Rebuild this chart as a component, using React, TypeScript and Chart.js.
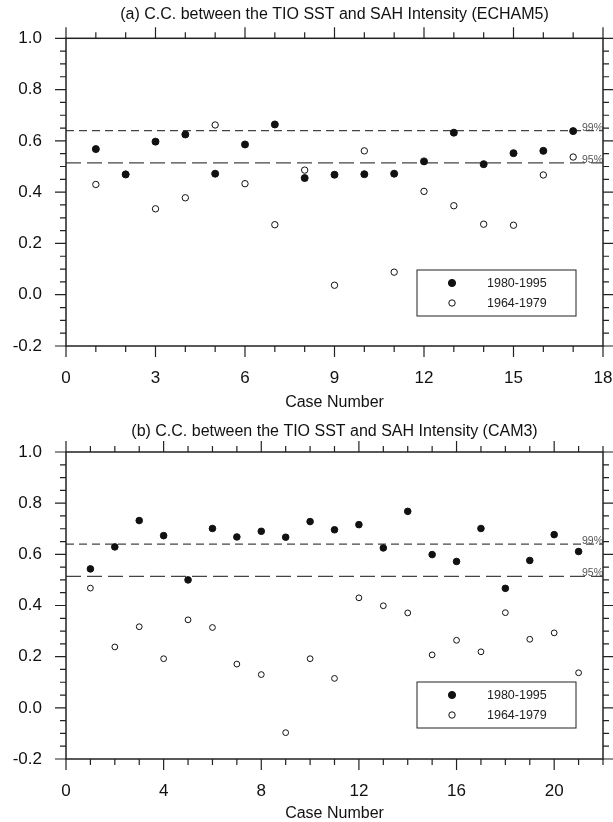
import React, { useEffect, useRef } from "react";
import { Chart, registerables } from "chart.js";

Chart.register(...registerables);

// ---------------- data ----------------
const casesA = [1, 2, 3, 4, 5, 6, 7, 8, 9, 10, 11, 12, 13, 14, 15, 16, 17];
const ccA1980 = [0.568, 0.469, 0.597, 0.625, 0.472, 0.586, 0.664, 0.455, 0.468, 0.47, 0.472, 0.52, 0.632, 0.509, 0.552, 0.561, 0.638];
const ccA1964 = [0.43, 0.47, 0.335, 0.378, 0.662, 0.433, 0.273, 0.486, 0.037, 0.561, 0.088, 0.403, 0.347, 0.275, 0.271, 0.467, 0.537];

const casesB = [1, 2, 3, 4, 5, 6, 7, 8, 9, 10, 11, 12, 13, 14, 15, 16, 17, 18, 19, 20, 21];
const ccB1980 = [0.543, 0.629, 0.732, 0.673, 0.5, 0.701, 0.668, 0.69, 0.667, 0.728, 0.696, 0.716, 0.625, 0.768, 0.599, 0.572, 0.701, 0.467, 0.576, 0.677, 0.611];
const ccB1964 = [0.468, 0.238, 0.317, 0.192, 0.344, 0.314, 0.171, 0.13, -0.097, 0.192, 0.115, 0.43, 0.399, 0.371, 0.207, 0.264, 0.219, 0.372, 0.268, 0.293, 0.137];

const seriesLabels = ["1980-1995", "1964-1979"];
const sig99 = 0.64;
const sig95 = 0.514;
const sigLabels = ["99%", "95%"];

const titleA = "(a) C.C. between the TIO SST and SAH Intensity (ECHAM5)";
const titleB = "(b) C.C. between the TIO SST and SAH Intensity (CAM3)";
const xAxisTitle = "Case Number";

const yMin = -0.2;
const yMax = 1.0;
const yMajor = 0.2;
const yMinor = 0.05;
const xMaxA = 18;
const xMajorA = 3;
const xMaxB = 22;
const xMajorB = 4;
const xMinor = 1;

const FONT = '"Liberation Sans", Arial, Helvetica, sans-serif';

// ---------------- plugin ----------------
const framePlugin = {
  id: "frame",
  beforeDatasetsDraw(chart: any) {
    const { ctx, chartArea: ca } = chart;
    const y = chart.scales.y;
    ctx.save();
    ctx.strokeStyle = "#444";
    ctx.lineWidth = 1.2;
    const p99 = y.getPixelForValue(sig99);
    const p95 = y.getPixelForValue(sig95);
    ctx.setLineDash([8, 5]);
    ctx.beginPath();
    ctx.moveTo(ca.left, p99);
    ctx.lineTo(ca.right, p99);
    ctx.stroke();
    ctx.setLineDash([15, 6]);
    ctx.beginPath();
    ctx.moveTo(ca.left, p95);
    ctx.lineTo(ca.right, p95);
    ctx.stroke();
    ctx.setLineDash([]);
    ctx.restore();
  },
  afterDraw(chart: any, _args: any, opts: any) {
    const { ctx, chartArea: ca } = chart;
    const x = chart.scales.x;
    const y = chart.scales.y;
    ctx.save();
    // significance labels
    ctx.fillStyle = "#555";
    ctx.font = `10.5px ${FONT}`;
    ctx.textAlign = "right";
    ctx.textBaseline = "alphabetic";
    ctx.fillText(sigLabels[0], ca.right, y.getPixelForValue(sig99));
    ctx.fillText(sigLabels[1], ca.right, y.getPixelForValue(sig95));

    // frame
    ctx.strokeStyle = "#222";
    ctx.lineWidth = 1.5;
    ctx.strokeRect(ca.left, ca.top, ca.right - ca.left, ca.bottom - ca.top);

    // ticks
    ctx.lineWidth = 1.2;
    ctx.beginPath();
    const nx = Math.round((x.max - x.min) / xMinor);
    for (let k = 0; k <= nx; k++) {
      const v = x.min + k * xMinor;
      const px = x.getPixelForValue(v);
      const r = v / opts.xMajor;
      const major = Math.abs(r - Math.round(r)) < 1e-6;
      const L = major ? 11 : 6;
      ctx.moveTo(px, ca.bottom);
      ctx.lineTo(px, ca.bottom + L);
      ctx.moveTo(px, ca.top);
      ctx.lineTo(px, ca.top - L);
    }
    const ny = Math.round((yMax - yMin) / yMinor);
    const per = Math.round(yMajor / yMinor);
    for (let k = 0; k <= ny; k++) {
      const v = yMin + k * yMinor;
      const py = y.getPixelForValue(v);
      const L = k % per === 0 ? 11 : 6;
      ctx.moveTo(ca.left, py);
      ctx.lineTo(ca.left - L, py);
      ctx.moveTo(ca.right, py);
      ctx.lineTo(ca.right + L, py);
    }
    ctx.stroke();

    // legend box
    const bx = ca.left + opts.legendLeft;
    const by = ca.bottom - opts.legendFromBottom;
    const bw = 159;
    const bh = 46;
    ctx.fillStyle = "#fff";
    ctx.fillRect(bx, by, bw, bh);
    ctx.strokeStyle = "#222";
    ctx.lineWidth = 1;
    ctx.strokeRect(bx, by, bw, bh);
    const rows = [by + 13, by + 33];
    const ds = chart.data.datasets;
    ctx.font = `12.5px ${FONT}`;
    ctx.textAlign = "left";
    ctx.textBaseline = "middle";
    for (let i = 0; i < 2; i++) {
      ctx.beginPath();
      ctx.arc(bx + 35, rows[i], i === 0 ? 3.6 : 3.2, 0, Math.PI * 2);
      ctx.fillStyle = i === 0 ? "#111" : "#fff";
      ctx.fill();
      ctx.strokeStyle = "#111";
      ctx.lineWidth = 1;
      ctx.stroke();
      ctx.fillStyle = "#222";
      ctx.fillText(ds[i].label, bx + 70, rows[i] + 0.5);
    }
    ctx.restore();
  },
};

type PanelProps = {
  title: string;
  cases: number[];
  v1980: number[];
  v1964: number[];
  xMax: number;
  xMajor: number;
  titlePadTop: number;
  titlePadBottom: number;
  xAxisHeight: number;
  rFilled: number;
  rOpen: number;
  legendFromBottom: number;
};

function Panel(p: PanelProps) {
  const ref = useRef<HTMLCanvasElement | null>(null);
  useEffect(() => {
    if (!ref.current) return;
    const tickFont = { family: FONT, size: 17 };
    const chart = new Chart(ref.current, {
      type: "scatter",
      data: {
        datasets: [
          {
            label: seriesLabels[0],
            data: p.cases.map((c, i) => ({ x: c, y: p.v1980[i] })),
            pointRadius: p.rFilled,
            pointBackgroundColor: "#111",
            pointBorderColor: "#111",
            pointBorderWidth: 1,
            showLine: false,
          },
          {
            label: seriesLabels[1],
            data: p.cases.map((c, i) => ({ x: c, y: p.v1964[i] })),
            pointRadius: p.rOpen,
            pointBackgroundColor: "#fff",
            pointBorderColor: "#111",
            pointBorderWidth: 1,
            showLine: false,
          },
        ],
      },
      options: {
        responsive: false,
        animation: false,
        events: [],
        layout: { padding: { left: 0, right: 10, top: 0, bottom: 0 } },
        plugins: {
          legend: { display: false },
          tooltip: { enabled: false },
          title: {
            display: true,
            text: p.title,
            fullSize: false,
            color: "#111",
            font: { family: FONT, size: 16, weight: "normal", lineHeight: 1.2 },
            padding: { top: p.titlePadTop, bottom: p.titlePadBottom },
          },
          frame: { xMajor: p.xMajor, legendLeft: 351, legendFromBottom: p.legendFromBottom },
        } as any,
        scales: {
          x: {
            type: "linear",
            position: "bottom",
            min: 0,
            max: p.xMax,
            grid: { display: false, drawTicks: false },
            border: { display: false },
            ticks: {
              stepSize: p.xMajor,
              includeBounds: false,
              padding: 22,
              color: "#111",
              font: tickFont,
              maxRotation: 0,
              autoSkip: false,
              callback: (v: any) => String(v),
            },
            title: {
              display: true,
              text: xAxisTitle,
              color: "#111",
              font: { family: FONT, size: 16, lineHeight: 1 },
              padding: { top: 0, bottom: 0 },
            },
            afterFit: (s: any) => {
              s.height = p.xAxisHeight;
              s.paddingLeft = 0;
              s.paddingRight = 0;
            },
          },
          y: {
            type: "linear",
            min: yMin,
            max: yMax,
            grid: { display: false, drawTicks: false },
            border: { display: false },
            ticks: {
              stepSize: yMajor,
              padding: 24,
              color: "#111",
              font: tickFont,
              callback: (v: any) => (Math.abs(v) < 1e-9 ? "0.0" : Number(v).toFixed(1)),
            },
            afterFit: (s: any) => {
              s.width = 66;
              s.paddingTop = 0;
              s.paddingBottom = 0;
            },
          },
        },
      } as any,
      plugins: [framePlugin as any],
    });
    return () => chart.destroy();
  }, []);
  return <canvas ref={ref} width={613} height={411} style={{ display: "block", width: 613, height: 411 }} />;
}

export default function App() {
  return (
    <div style={{ position: "absolute", left: 0, top: 0, width: 613, height: 822, background: "#fff" }}>
      <Panel
        title={titleA}
        cases={casesA}
        v1980={ccA1980}
        v1964={ccA1964}
        xMax={xMaxA}
        xMajor={xMajorA}
        titlePadTop={4.5}
        titlePadBottom={14.6}
        xAxisHeight={65}
        rFilled={3.5}
        rOpen={3.2}
        legendFromBottom={76}
      />
      <Panel
        title={titleB}
        cases={casesB}
        v1980={ccB1980}
        v1964={ccB1964}
        xMax={xMaxB}
        xMajor={xMajorB}
        titlePadTop={11}
        titlePadBottom={10.8}
        xAxisHeight={63}
        rFilled={3.3}
        rOpen={2.9}
        legendFromBottom={77}
      />
    </div>
  );
}
